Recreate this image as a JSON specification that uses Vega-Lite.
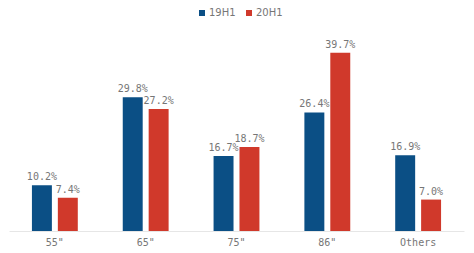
{
  "$schema": "https://vega.github.io/schema/vega-lite/v6.json",
  "autosize": {"type": "none"},
  "padding": {"left": 9, "top": 29, "right": 10, "bottom": 22},
  "width": 455,
  "height": 202,
  "background": "white",
  "config": {"view": {"stroke": null}, "font": "DejaVu Sans"},
  "data": {"values": [
    {"size": "55\"", "period": "19H1", "share": 0.102},
    {"size": "55\"", "period": "20H1", "share": 0.074},
    {"size": "65\"", "period": "19H1", "share": 0.298},
    {"size": "65\"", "period": "20H1", "share": 0.272},
    {"size": "75\"", "period": "19H1", "share": 0.167},
    {"size": "75\"", "period": "20H1", "share": 0.187},
    {"size": "86\"", "period": "19H1", "share": 0.264},
    {"size": "86\"", "period": "20H1", "share": 0.397},
    {"size": "Others", "period": "19H1", "share": 0.169},
    {"size": "Others", "period": "20H1", "share": 0.070}
  ]},
  "encoding": {
    "x": {"field": "size", "type": "nominal", "sort": null,
      "scale": {"paddingInner": 0.495, "paddingOuter": 0.2525},
      "axis": {"title": null, "labelAngle": 0, "ticks": false, "domainColor": "#e6e6e6", "labelColor": "#767676", "labelFontSize": 10, "labelPadding": 6, "labelFont": "DejaVu Sans Mono"}},
    "xOffset": {"field": "period", "type": "nominal", "scale": {"paddingInner": 0.23, "paddingOuter": 0}},
    "y": {"field": "share", "type": "quantitative", "scale": {"domain": [0, 0.45], "nice": false}, "axis": null}
  },
  "layer": [
    {"mark": {"type": "bar"},
     "encoding": {
       "color": {"field": "period", "type": "nominal",
         "scale": {"domain": ["19H1", "20H1"], "range": ["#0B4F85", "#D0392B"]},
         "legend": {"title": null, "orient": "none", "legendX": 188, "legendY": -21, "direction": "horizontal", "symbolType": "square", "symbolSize": 36, "labelFontSize": 10, "labelColor": "#767676", "columnPadding": 8, "labelOffset": 2, "symbolStrokeWidth": 0}
       }}},
    {"mark": {"type": "text", "dy": -8, "fontSize": 10, "color": "#767676", "font": "DejaVu Sans Mono"},
     "encoding": {
       "text": {"field": "share", "type": "quantitative", "format": ".1%"},
       "detail": {"field": "period"}
     }}
  ]
}
